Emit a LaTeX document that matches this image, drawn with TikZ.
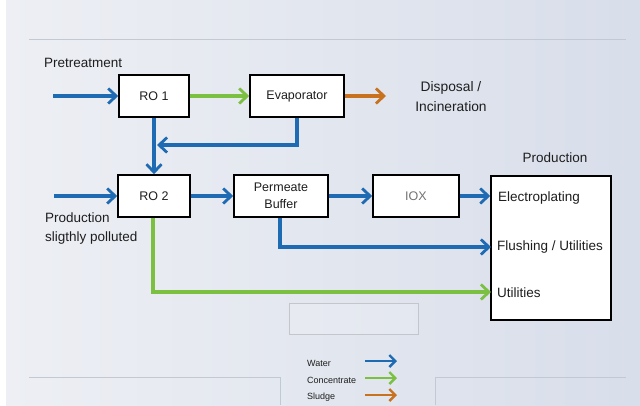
\documentclass[tikz,border=0pt]{standalone}
\usepackage{fontspec}
\setmainfont{Liberation Sans}
\usetikzlibrary{arrows.meta}
\definecolor{wblue}{HTML}{1E6BB3}
\definecolor{cgreen}{HTML}{7CC042}
\definecolor{sorange}{HTML}{C8721F}
\definecolor{txt}{HTML}{1E1E1E}
\definecolor{bgl}{HTML}{EDEFF4}
\definecolor{bgr}{HTML}{D8DEEA}
\definecolor{rule}{HTML}{C3C9D3}
\begin{document}
\begin{tikzpicture}[x=1pt,y=-1pt,
  flow/.style={line width=3.2pt,-{Straight Barb[length=8pt,width=15pt,line width=2.8pt]}},
  water/.style={flow,draw=wblue},
  conc/.style={flow,draw=cgreen},
  sludge/.style={flow,draw=sorange},
  legflow/.style={line width=2.6pt,-{Straight Barb[length=6pt,width=12pt,line width=2.4pt]}},
  box/.style={draw=black,fill=white,line width=1.5pt,inner sep=0pt,text=txt,font=\fontsize{12.5}{14}\selectfont},
  lbl/.style={inner sep=0pt,text=txt,font=\fontsize{13.5}{19}\selectfont},
  leg/.style={inner sep=0pt,text=txt,font=\fontsize{9}{10}\selectfont,anchor=west},
  rulel/.style={draw=rule,line width=0.6pt}]
\useasboundingbox (0,0) rectangle (640,405);
\fill[white] (0,0) rectangle (640,405);
\shade[left color=bgl,right color=bgr] (6,0) rectangle (640,405);
% frame lines
\draw[rulel] (29,39) -- (626,39);
\draw[rulel] (29,377) -- (280,377) -- (280,405);
\draw[rulel] (435,405) -- (435,377) -- (626,377);
\draw[draw=rule!80!black!60,line width=0.6pt,fill=white,fill opacity=0.15] (289,303) rectangle (418,334);
% boxes
\node[box,minimum width=70pt,minimum height=42pt] (ro1) at (154,96) {RO 1};
\node[box,minimum width=94pt,minimum height=42pt] (evap) at (297,96) {Evaporator};
\node[box,minimum width=72pt,minimum height=42pt] (ro2) at (154,196) {RO 2};
\node[box,minimum width=94pt,minimum height=42pt,align=center,font=\fontsize{12.5}{17}\selectfont] (buf) at (281,196) {Permeate\\Buffer};
\node[box,minimum width=86pt,minimum height=42pt,text=black!55] (iox) at (416,196) {IOX};
\node[box,minimum width=120pt,minimum height=144pt] (prod) at (551,248) {};
% labels
\node[lbl,anchor=west] (pretxt) at (44,63) {Pretreatment};
\node[lbl,align=center,font=\fontsize{13.8}{20}\selectfont] (disp) at (451,97) {Disposal /\\Incineration};
\node[lbl] (prodtxt) at (555,158) {Production};
\node[lbl,anchor=west,align=left] (spol) at (45,228.5) {Production\\sligthly polluted};
\node[lbl,anchor=west] (elec) at (498,198) {Electroplating};
\node[lbl,anchor=west] (flush) at (497,247) {Flushing / Utilities};
\node[lbl,anchor=west] (util) at (497,293) {Utilities};
% coordinates
\coordinate (pre) at (53,96);
\coordinate (dispin) at (386,96);
\coordinate (ret) at (157,145);
\coordinate (ro2in) at (54,196);
\coordinate (fl) at (491,247);
\coordinate (ut) at (491,292);
% connectors
\draw[water] (pre) -- (ro1);
\draw[conc] (ro1) -- (evap);
\draw[sludge] (evap) -- (dispin);
\draw[water] (ro1.south) -- (ro2.north);
\draw[water] (evap.south) |- (ret);
\draw[water] (ro2in) -- (ro2);
\draw[water] (ro2) -- (buf);
\draw[water] (buf) -- (iox);
\draw[water] (iox.east) -- (iox.east -| prod.west);
\draw[water] ([xshift=-1pt]buf.south) |- (fl);
\draw[conc] ([xshift=-1pt]ro2.south) |- (ut);
% legend
\node[leg] (lw) at (307,363) {Water};
\node[leg] (lc) at (307,380) {Concentrate};
\node[leg] (ls) at (307,397) {Sludge};
\coordinate (lw1) at (365,361); \coordinate (lw2) at (397,361);
\coordinate (lc1) at (365,378); \coordinate (lc2) at (397,378);
\coordinate (ls1) at (365,395); \coordinate (ls2) at (397,395);
\draw[legflow,draw=wblue] (lw1) -- (lw2);
\draw[legflow,draw=cgreen] (lc1) -- (lc2);
\draw[legflow,draw=sorange] (ls1) -- (ls2);
\end{tikzpicture}
\end{document}
